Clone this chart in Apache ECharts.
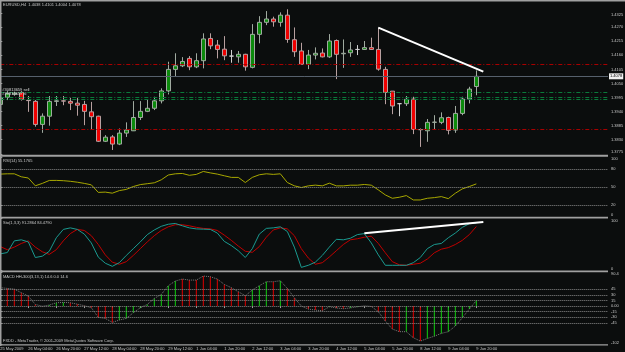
<!DOCTYPE html>
<html>
<head>
<meta charset="utf-8">
<script src="https://cdn.jsdelivr.net/npm/echarts@6/dist/echarts.min.js"></script>
<style>
html, body { margin: 0; padding: 0; background: #0b0d0d; }
#chart { width: 625px; height: 352px; }
</style>
</head>
<body>
<div id="chart"></div>
<script>
// EURUSD H4 candles, one entry per bar
const openPrices = [1.3968,1.3996,1.4008,1.4015,1.3984,1.3980,1.3890,1.3922,1.3980,1.3982,
  1.3980,1.3973,1.3968,1.3939,1.3922,1.3824,1.3841,1.3813,1.3856,1.3865,
  1.3917,1.3941,1.3953,1.3982,1.4021,1.4105,1.4119,1.4148,1.4115,1.4139,
  1.4226,1.4200,1.4184,1.4157,1.4154,1.4164,1.4113,1.4242,1.4289,1.4302,
  1.4289,1.4317,1.4221,1.4177,1.4125,1.4161,1.4169,1.4154,1.4218,1.4166,
  1.4170,1.4183,1.4183,1.4190,1.4183,1.4105,1.4020,1.3971,1.3971,1.3989,
  1.3870,1.3865,1.3898,1.3898,1.3917,1.3868,1.3933,1.3989,1.4038];
const closePrices = [1.3994,1.4011,1.4012,1.3988,1.3983,1.3890,1.3922,1.3980,1.3982,1.3981,
  1.3973,1.3965,1.3941,1.3920,1.3824,1.3840,1.3813,1.3856,1.3868,1.3917,
  1.3941,1.3953,1.3982,1.4021,1.4105,1.4119,1.4136,1.4115,1.4139,1.4224,
  1.4197,1.4183,1.4158,1.4157,1.4164,1.4115,1.4242,1.4289,1.4302,1.4291,
  1.4317,1.4222,1.4174,1.4125,1.4161,1.4168,1.4154,1.4216,1.4164,1.4168,
  1.4181,1.4183,1.4190,1.4183,1.4106,1.4015,1.3962,1.3971,1.3988,1.3870,
  1.3869,1.3898,1.3899,1.3916,1.3867,1.3933,1.3989,1.4028,1.4078];
const lowPrices = [1.3962,1.3985,1.4002,1.3983,1.3939,1.3881,1.3857,1.3885,1.3962,1.3965,
  1.3946,1.3924,1.3887,1.3868,1.3821,1.3821,1.3790,1.3809,1.3841,1.3864,
  1.3907,1.3938,1.3946,1.3972,1.4007,1.4076,1.4114,1.4102,1.4110,1.4109,
  1.4184,1.4148,1.4141,1.4131,1.4131,1.4100,1.4109,1.4207,1.4278,1.4272,
  1.4272,1.4209,1.4154,1.4123,1.4106,1.4144,1.4152,1.4150,1.4067,1.4111,
  1.4154,1.4161,1.4181,1.4181,1.4100,1.3969,1.3930,1.3922,1.3962,1.3852,
  1.3802,1.3822,1.3868,1.3891,1.3851,1.3857,1.3926,1.3972,1.4004];
const highPrices = [1.4005,1.4020,1.4018,1.4020,1.4001,1.3985,1.3933,1.4001,1.4001,1.4001,
  1.3994,1.3994,1.3982,1.3978,1.3924,1.3848,1.3848,1.3874,1.3898,1.3981,
  1.3981,1.3989,1.3998,1.4031,1.4135,1.4168,1.4153,1.4157,1.4168,1.4246,
  1.4246,1.4220,1.4235,1.4181,1.4177,1.4166,1.4282,1.4313,1.4333,1.4311,
  1.4328,1.4340,1.4269,1.4209,1.4181,1.4191,1.4187,1.4243,1.4222,1.4222,
  1.4212,1.4200,1.4216,1.4229,1.4268,1.4115,1.4020,1.3973,1.4001,1.3998,
  1.3874,1.3911,1.3926,1.3937,1.3920,1.3962,1.3998,1.4037,1.4101];

const rsiValues = [71.5,72,72,67,65,52,56,60.9,61,60.5,
  59.5,58,56,53.6,41,41.5,39.7,44,46,50.8,
  54,55.5,57,62,70,72,72.6,69.5,71,75.9,
  73.5,71.5,68.7,66,66,57.5,66,70.4,72,71,
  72,57.5,52,49.1,51.9,53.1,51.9,56.4,51.9,51.9,
  53,53,54.2,53,45.2,36.8,31.2,32.9,35.7,28.4,
  28.4,31.2,32.3,34,30.6,39.6,46.9,50.8,55.18];

const stochMain = [32,34.5,57,59,55,25,27.5,37,63,79,
  82,79,70,53,25.7,14,8,15,29,42,
  55,69,78,85,89,90.5,86,82,80,79.5,
  79,72,56,48,38,25,42,70,81,82,
  84,75,45,6,10,16,29,45,60,59,
  62,69,71,53,30,10,10,10,10,15,
  25,42,50,52,63,72,83,90,91.29];
const stochSignal = [46,40,45,52,57,45,36,31,40,57,
  71,79,77,67,50,30,16,12,17,29,
  42,55,67,77,84,88,88,86,83,81,
  80,77,68,58,47,37,35,46,64,78,
  82,80,67,42,24,12,15,26,38,50,
  59,61,64,66,52,34,17,11,10,12,
  14,22,34,41,44,50,58,69,84.48];

const macdValues = [48.7,46.9,45.1,35.4,26.5,4.4,-0.5,2.7,8.8,9.7,
  8.8,5,1,-4.4,-30.1,-32.7,-43.4,-37.2,-32.7,-17.7,
  -4.4,4.4,20.3,31,54,66.4,71.7,69,69,79.6,
  77.9,71.7,57.5,48.7,38,27.4,42.5,54,64.6,64.6,
  67.2,46.9,22.1,0,-8,-10.6,-12.4,-2,-5,-7,
  -5,-2,0.5,-1,-15,-39.8,-61,-68,-68,-84,
  -93,-86,-80,-72.5,-68,-53,-31,-8,14.6];
// u = green bar, d = red bar
const macdDirs = ['d','d','d','d','d','d','d','u','u','u',
  'd','d','d','d','d','d','d','u','u','u',
  'u','u','u','u','u','u','d','d','d','d',
  'd','d','d','d','d','d','u','u','u','d',
  'u','d','d','d','d','d','d','u','d','d',
  'u','u','u','d','d','d','d','d','u','d',
  'd','u','u','u','u','u','u','u','u'];

const timeLabels = ['25 May 2009','26 May 04:00','26 May 20:00','27 May 12:00','28 May 04:00',
  '28 May 20:00','29 May 12:00','1 Jun 04:00','1 Jun 20:00','2 Jun 12:00','3 Jun 04:00',
  '3 Jun 20:00','4 Jun 12:00','5 Jun 04:00','5 Jun 20:00','8 Jun 12:00','9 Jun 04:00','9 Jun 20:00'];
const barsPerLabel = 4;

const priceTicks = [1.3775,1.3830,1.3885,1.3940,1.3995,1.4050,1.4105,1.4160,1.4215,1.4270,1.4325];
const rsiTicks = [0,20,50,80,100];
const rsiLevels = [20,50,80];
const stochTicks = [0,100];
const macdTicks = [-102,-45,-30,-15,0,15,30,45,90.4];
const macdLevels = [-45,-30,-15,0,15,30,45];

const bidPrice = 1.4078;
const redLevels = [1.4125, 1.3870];
const orderLevels = [1.4015, 1.3998, 1.3989];
const orderTexts = ['#30813659 sell', '#30813659 sl', ''];
const trendMain = [[54, 1.4268], [69, 1.4096]];
const trendStoch = [[52, 71.5], [69, 93.3]];

const FONT = 'Liberation Sans';
const TXT = '#c8c8c8';
const FRAME = '#a0a0a0';
const xMax = 86.81;

const labelIdx = timeLabels.map((_, k) => k * barsPerLabel);

function xAxisFor(gi, withLabels) {
  return {
    type: 'value', gridIndex: gi, min: 0, max: xMax,
    axisLine: { show: false }, splitLine: { show: false },
    axisTick: withLabels
      ? { show: true, customValues: labelIdx, length: 2, lineStyle: { color: FRAME } }
      : { show: false },
    axisLabel: withLabels
      ? { show: true, customValues: labelIdx, formatter: v => timeLabels[Math.round(v / barsPerLabel)],
          align: 'left', margin: 2, fontSize: 4, fontFamily: FONT, color: TXT }
      : { show: false }
  };
}

function yAxisFor(gi, min, max, ticks, fmt) {
  return {
    type: 'value', gridIndex: gi, position: 'right', min: min, max: max,
    axisLine: { show: true, lineStyle: { color: FRAME, width: 1 } },
    axisTick: { show: true, customValues: ticks, length: 2, lineStyle: { color: FRAME } },
    splitLine: { show: false },
    axisLabel: { show: true, customValues: ticks, formatter: fmt, margin: 3, fontSize: 4,
      fontFamily: FONT, color: TXT, verticalAlignMaxLabel: 'top', verticalAlignMinLabel: 'bottom' }
  };
}

const dotted = { color: '#8a8a8a', type: 'dotted', width: 1 };
const dashDot = [4, 2, 1, 2];

const chart = echarts.init(document.getElementById('chart'), null, { renderer: 'canvas' });

const gridBase = { left: 0.3, width: 607.7, containLabel: false, outerBoundsMode: 'none' };

const option = {
  animation: false,
  backgroundColor: '#0b0d0d',
  textStyle: { fontFamily: FONT },
  title: [
    { text: 'EURUSD,H4  1.4038 1.4101 1.4004 1.4078', left: 3, top: 2.5 },
    { text: 'RSI(14) 55.1765', left: 3, top: 158.5 },
    { text: 'Sto(1,3,3) 91.2864 84.4790', left: 3, top: 221 },
    { text: 'MACD HH-300(3,13,1) 14.6 0.0 14.6', left: 3, top: 274.5 },
    { text: 'FXDD - MetaTrader, \u00a9 2001-2009 MetaQuotes Software Corp.', left: 3, top: 339 }
  ].map(t => Object.assign(t, { padding: 0, textStyle: { fontSize: 4, fontWeight: 'normal', color: TXT, fontFamily: FONT } })),
  grid: [
    Object.assign({ top: 1.5, height: 154 }, gridBase),
    Object.assign({ top: 157, height: 60 }, gridBase),
    Object.assign({ top: 218.5, height: 52 }, gridBase),
    Object.assign({ top: 272, height: 72.5 }, gridBase)
  ],
  xAxis: [xAxisFor(0, false), xAxisFor(1, false), xAxisFor(2, false), xAxisFor(3, true)],
  yAxis: [
    yAxisFor(0, 1.37684, 1.43704, priceTicks, v => v.toFixed(4)),
    yAxisFor(1, 0, 100, rsiTicks, v => String(v)),
    yAxisFor(2, 0, 100, stochTicks, v => String(v)),
    yAxisFor(3, -102, 90.4, macdTicks, v => (v === 0 ? '0.00' : String(v)))
  ],
  graphic: [
    { type: 'rect', z: 100, shape: { x: 0, y: 0, width: 625, height: 1.5 }, style: { fill: FRAME } },
    { type: 'rect', z: 100, shape: { x: 0, y: 0, width: 1.5, height: 346 }, style: { fill: FRAME } },
    { type: 'rect', z: 100, shape: { x: 0, y: 154.8, width: 608, height: 2 }, style: { fill: FRAME } },
    { type: 'rect', z: 100, shape: { x: 0, y: 216.8, width: 608, height: 1.6 }, style: { fill: FRAME } },
    { type: 'rect', z: 100, shape: { x: 0, y: 270.6, width: 608, height: 1.6 }, style: { fill: FRAME } },
    { type: 'rect', z: 100, shape: { x: 0, y: 344.2, width: 608, height: 1.4 }, style: { fill: FRAME } }
  ],
  series: [
    {
      type: 'candlestick', xAxisIndex: 0, yAxisIndex: 0,
      data: openPrices.map((o, i) => [i, o, closePrices[i], lowPrices[i], highPrices[i]]),
      barWidth: 4.5,
      itemStyle: { color: '#0c8a0c', color0: '#f00000', borderColor: '#a0aaa0', borderColor0: '#b8a0a0',
        borderColorDoji: '#d0d0d0', borderWidth: 1 },
      markLine: {
        silent: true, symbol: ['none', 'none'], animation: false, precision: 4,
        label: { show: false },
        data: [
          ...redLevels.map(p => ({ yAxis: p, lineStyle: { color: '#a80000', type: dashDot, width: 1 } })),
          ...orderLevels.map((p, k) => ({
            yAxis: p, lineStyle: { color: '#0a7a3a', type: dashDot, width: 1 },
            label: { show: !!orderTexts[k], position: 'insideStartTop', formatter: orderTexts[k],
              fontSize: 4, color: '#d8d8d8', fontFamily: FONT, distance: [2, 1] }
          })),
          { yAxis: bidPrice, lineStyle: { color: '#56606c', type: 'solid', width: 1 },
            label: { show: true, position: 'end', formatter: bidPrice.toFixed(4), fontSize: 4,
              color: '#000', backgroundColor: '#f0f0f0', padding: [1, 1], distance: 1, fontFamily: FONT } },
          [ { coord: trendMain[0] }, { coord: trendMain[1], lineStyle: { color: '#ffffff', width: 2, type: 'solid' } } ]
        ]
      }
    },
    {
      type: 'line', xAxisIndex: 1, yAxisIndex: 1, showSymbol: false,
      data: rsiValues.map((v, i) => [i, v]),
      lineStyle: { color: '#a8a800', width: 1 },
      markLine: { silent: true, symbol: ['none', 'none'], label: { show: false }, lineStyle: dotted,
        data: rsiLevels.map(v => ({ yAxis: v })) }
    },
    {
      type: 'line', xAxisIndex: 2, yAxisIndex: 2, showSymbol: false,
      data: stochSignal.map((v, i) => [i, v]),
      lineStyle: { color: '#c00000', width: 1 }
    },
    {
      type: 'line', xAxisIndex: 2, yAxisIndex: 2, showSymbol: false,
      data: stochMain.map((v, i) => [i, v]),
      lineStyle: { color: '#1a9a90', width: 1 },
      markLine: { silent: true, symbol: ['none', 'none'], label: { show: false }, precision: 4,
        data: [[ { coord: trendStoch[0] }, { coord: trendStoch[1], lineStyle: { color: '#ffffff', width: 2, type: 'solid' } } ]] }
    },
    {
      type: 'bar', xAxisIndex: 3, yAxisIndex: 3, barWidth: 1,
      data: macdValues.map((v, i) => ({ value: [i, v], itemStyle: { color: macdDirs[i] === 'u' ? '#10d010' : '#e00000' } })),
      markLine: { silent: true, symbol: ['none', 'none'], label: { show: false }, lineStyle: dotted,
        data: macdLevels.map(v => ({ yAxis: v })) }
    },
    {
      type: 'line', xAxisIndex: 3, yAxisIndex: 3, showSymbol: false,
      data: macdValues.map((v, i) => [i, v]),
      lineStyle: { color: '#7c7c7c', width: 1, type: 'dotted' }
    }
  ]
};

chart.setOption(option);
</script>
</body>
</html>
